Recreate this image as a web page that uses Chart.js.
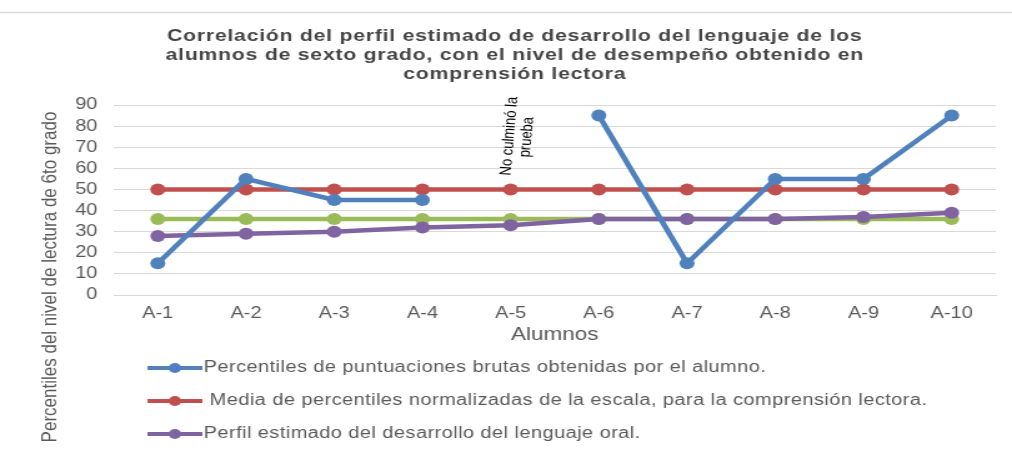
<!DOCTYPE html>
<html>
<head>
<meta charset="utf-8">
<script src="https://cdn.jsdelivr.net/npm/chart.js@4/dist/chart.umd.min.js"></script>
<style>
  html, body { margin: 0; padding: 0; background: #ffffff; }
  #grafico { display: block; }
</style>
</head>
<body>
<!-- el original esta estirado a lo ancho: se dibuja a 810 y se muestra a 1012 -->
<canvas id="grafico" width="810" height="450" style="width:1012px;height:450px"></canvas>
<script>
/*------------------------ Datos --------------------------*/
const categorias = ['A-1', 'A-2', 'A-3', 'A-4', 'A-5', 'A-6', 'A-7', 'A-8', 'A-9', 'A-10'];
const puntuaciones = [15, 55, 45, 45, null, 85, 15, 55, 55, 85];
const mediaEscala = [50, 50, 50, 50, 50, 50, 50, 50, 50, 50];
const lineaVerde = [36, 36, 36, 36, 36, 36, 36, 36, 36, 36];
const perfilOral = [28, 29, 30, 32, 33, 36, 36, 36, 37, 39];
const ticksY = [0, 10, 20, 30, 40, 50, 60, 70, 80, 90];

const titulo = [
  'Correlación del perfil estimado de desarrollo del lenguaje de los',
  'alumnos de sexto grado, con el nivel de desempeño obtenido en',
  'comprensión lectora'
];
const tituloY = 'Percentiles del nivel de lectura de 6to grado';
const tituloX = 'Alumnos';
const nota = ['No culminó la', 'prueba'];
const leyenda = [
  'Percentiles de puntuaciones brutas obtenidas por el alumno.',
  ' Media de percentiles normalizadas de la escala, para la comprensión lectora.',
  'Perfil estimado del desarrollo del lenguaje oral.'
];

const AZUL = '#4f81bd', ROJO = '#c0504d', VERDE = '#9bbb59', MORADO = '#8064a2';
const GRIS = '#595959';
const FUENTE = "'Liberation Sans', Arial, sans-serif";

Chart.defaults.font.family = FUENTE;
Chart.defaults.color = GRIS;

/*------------------------ Serie de linea --------------------------*/
let serie = (etiqueta, datos, color, enLeyenda) => ({
  label: etiqueta,
  data: datos,
  borderColor: color,
  backgroundColor: color,
  pointBackgroundColor: color,
  pointBorderColor: color,
  borderWidth: 4.5,
  pointRadius: 6,
  pointBorderWidth: 0,
  tension: 0,
  spanGaps: false,
  enLeyenda: enLeyenda
});

/*------------------------ Textos y leyenda propios --------------------------*/
const decoracion = {
  id: 'decoracion',
  afterDraw(chart) {
    const ctx = chart.ctx;
    const x = chart.scales.x;
    const y = chart.scales.y;
    ctx.save();

    // linea gris de arriba
    ctx.strokeStyle = '#d9d9d9';
    ctx.lineWidth = 1.5;
    ctx.beginPath();
    ctx.moveTo(0, 12.5);
    ctx.lineTo(chart.width, 12.5);
    ctx.stroke();

    // titulo
    ctx.fillStyle = '#454545';
    ctx.font = 'bold 17px ' + FUENTE;
    ctx.letterSpacing = '0.6px';
    ctx.textAlign = 'center';
    ctx.textBaseline = 'middle';
    titulo.forEach((linea, i) => ctx.fillText(linea, 412, 36 + i * 19));
    ctx.letterSpacing = '0px';

    // titulo del eje X
    ctx.fillStyle = GRIS;
    ctx.font = '18px ' + FUENTE;
    ctx.fillText(tituloX, (chart.chartArea.left + chart.chartArea.right) / 2, chart.chartArea.bottom + 40);

    // titulo del eje Y
    ctx.save();
    ctx.translate(40, 277);
    ctx.rotate(-Math.PI / 2);
    ctx.font = '17px ' + FUENTE;
    ctx.fillText(tituloY, 0, 0);
    ctx.restore();

    // nota sobre A-5
    ctx.save();
    ctx.translate(x.getPixelForValue(4) + 6, y.getPixelForValue(75));
    ctx.rotate(-86 * Math.PI / 180);
    ctx.fillStyle = '#000000';
    ctx.font = '13px ' + FUENTE;
    nota.forEach((linea, i) => ctx.fillText(linea, 0, -7 + i * 14));
    ctx.restore();

    // leyenda
    let fila = 0;
    ctx.letterSpacing = '0.35px';
    chart.data.datasets.forEach(ds => {
      if (!ds.enLeyenda) return;
      const yy = 368 + fila * 33;
      ctx.strokeStyle = ds.borderColor;
      ctx.fillStyle = ds.borderColor;
      ctx.lineWidth = 4;
      ctx.beginPath();
      ctx.moveTo(118, yy);
      ctx.lineTo(162, yy);
      ctx.stroke();
      ctx.beginPath();
      ctx.arc(140, yy, 5, 0, Math.PI * 2);
      ctx.fill();
      ctx.fillStyle = GRIS;
      ctx.font = '16px ' + FUENTE;
      ctx.textAlign = 'left';
      ctx.fillText(leyenda[fila], 163, yy);
      fila++;
    });
    ctx.letterSpacing = '0px';

    ctx.restore();
  }
};

/*------------------------ Grafico --------------------------*/
let lienzo = document.getElementById('grafico').getContext('2d');
var chart = new Chart(lienzo, {
  type: 'line',
  data: {
    labels: categorias,
    datasets: [
      serie(leyenda[0], puntuaciones, AZUL, true),
      serie(leyenda[1], mediaEscala, ROJO, true),
      serie(leyenda[2], perfilOral, MORADO, true),
      serie('', lineaVerde, VERDE, false)
    ]
  },
  options: {
    responsive: false,
    animation: false,
    layout: { padding: { top: 105, right: 13, bottom: 115, left: 0 } },
    plugins: {
      legend: { display: false },
      title: { display: false },
      tooltip: { enabled: false }
    },
    scales: {
      x: {
        offset: true,
        afterFit: (escala) => { escala.height = 40; },
        grid: { display: false, drawTicks: false },
        border: { display: true, color: '#d9d9d9' },
        ticks: { padding: 9, font: { size: 16 }, color: GRIS, autoSkip: false, maxRotation: 0 }
      },
      y: {
        min: 0,
        max: 90,
        afterFit: (escala) => { escala.width = 91; },
        afterBuildTicks: (escala) => { escala.ticks = ticksY.map(v => ({ value: v })); },
        grid: { color: '#d9d9d9', lineWidth: 1, drawTicks: false },
        border: { display: false },
        ticks: { padding: 13, font: { size: 16 }, color: GRIS, autoSkip: false }
      }
    }
  },
  plugins: [decoracion]
});
</script>
</body>
</html>
